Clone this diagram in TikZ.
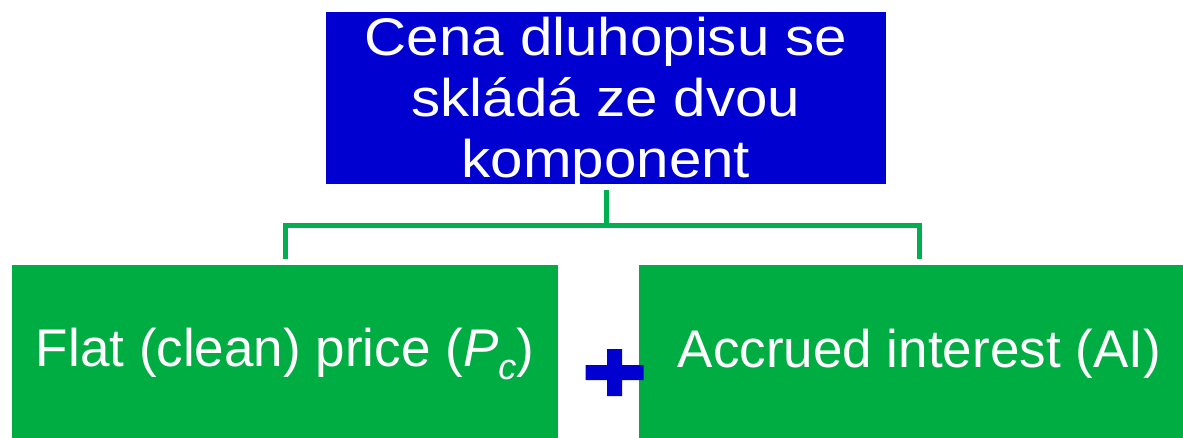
\documentclass[tikz,border=0pt]{standalone}
\usepackage{fontspec}
\setmainfont{Liberation Sans}
\newfontfamily\widesans[FakeStretch=1.1]{Liberation Sans}
\usetikzlibrary{positioning}

\definecolor{rootblue}{RGB}{0,0,208}
\definecolor{leafgreen}{RGB}{0,173,67}
\definecolor{branchgreen}{RGB}{0,176,80}

\tikzset{
  rootbox/.style={fill=rootblue, inner sep=0pt,
    minimum width=560pt, minimum height=172pt},
  roottext/.style={text=white, inner sep=0pt, align=center,
    font=\widesans\fontsize{53}{61}\selectfont},
  leafbox/.style={fill=leafgreen, text=white, inner sep=0pt,
    minimum height=178pt, font=\fontsize{53}{61}\selectfont},
  branch/.style={draw=branchgreen, line width=5pt},
}

\begin{document}
\begin{tikzpicture}[x=1pt, y=1pt]
\useasboundingbox (0,0) rectangle (1183,-437);

\node[rootbox] (cena) at (606,-98) {};
\node[roottext, below=5pt of cena.center, anchor=center] (cenatext) {Cena dluhopisu se\\skládá ze dvou\\komponent};
\node[leafbox, minimum width=546pt] (flat) at (285,-354)
  {Flat (clean) price (\textit{P}\raisebox{-0.24em}{\fontsize{36}{36}\selectfont\textit{c}})};
\node[leafbox, minimum width=560pt, right=81pt of flat] (ai) {Accrued interest (AI)};

\coordinate[below=41pt of cena.south] (split);
\draw[branch, shorten <=6pt] (cena.south) -- (split);
\draw[branch, shorten <=6pt, shorten >=6pt] (flat.north) |- (split) -| (ai.north);

% plus sign between the two parts
\coordinate (plus) at (614.5,-372.5);
\fill[rootblue, shift={(plus)}] (-29,-7.5) rectangle (29,7.5) (-7.5,-23.5) rectangle (7.5,23.5);

\end{tikzpicture}
\end{document}
